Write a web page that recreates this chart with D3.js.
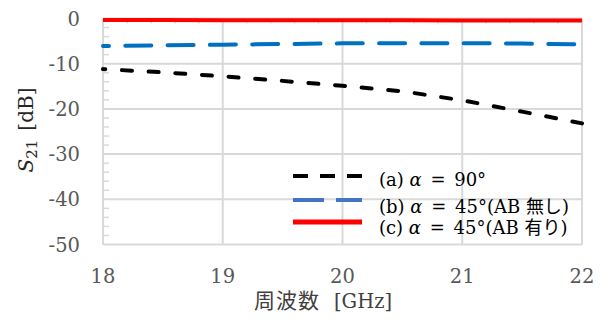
<!DOCTYPE html>
<html>
<head>
<meta charset="utf-8">
<script src="https://cdn.jsdelivr.net/npm/d3@7"></script>
<style>
  body { margin: 0; background: #fff; }
  svg { display: block; }
</style>
</head>
<body>
<svg id="chart"></svg>
<script>
// frequency points (GHz)
const freqs = [18, 18.5, 19, 19.5, 20, 20.5, 21, 21.5, 22];
// S21 values (dB)
const seriesA = [-11.2, -11.9, -12.8, -13.8, -14.9, -16.1, -18.1, -20.6, -23.2];
const seriesB = [-6.1, -5.95, -5.8, -5.65, -5.5, -5.45, -5.45, -5.55, -5.7];
const seriesC = [-0.35, -0.35, -0.37, -0.38, -0.4, -0.4, -0.42, -0.43, -0.45];
const xTicks = [18, 19, 20, 21, 22];
const yTicks = [0, -10, -20, -30, -40, -50];
const legendLabels = [
  { tag: "(a) ", ang: "90°", note: "" },
  { tag: "(b) ", ang: "45°", note: "無し" },
  { tag: "(c) ", ang: "45°", note: "有り" }
];

const width = 603, height = 320;
const svg = d3.select("#chart").attr("width", width).attr("height", height);

const x = d3.scaleLinear().domain([18, 22]).range([103, 582]);
const y = d3.scaleLinear().domain([-50, 0]).range([244.5, 18.5]);

const grid = "#d9d9d9";
const serif = "'DejaVu Serif', 'Liberation Serif', serif";
const cjk = "'Noto Sans CJK JP', sans-serif";

// horizontal gridlines
svg.append("g").selectAll("line")
  .data(yTicks)
  .join("line")
  .attr("x1", x(18)).attr("x2", x(22))
  .attr("y1", d => y(d)).attr("y2", d => y(d))
  .attr("stroke", grid).attr("stroke-width", 2);

// vertical gridlines
svg.append("g").selectAll("line")
  .data(xTicks)
  .join("line")
  .attr("x1", d => x(d)).attr("x2", d => x(d))
  .attr("y1", y(0)).attr("y2", y(-50))
  .attr("stroke", grid).attr("stroke-width", 2);

// minor ticks on the left axis (every 2 dB)
svg.append("g").selectAll("line")
  .data(d3.range(-48, 0, 2).filter(v => v % 10 !== 0))
  .join("line")
  .attr("x1", x(18)).attr("x2", x(18) + 6)
  .attr("y1", d => y(d)).attr("y2", d => y(d))
  .attr("stroke", grid).attr("stroke-width", 1.5);

// minor ticks on the x axis at 0 dB (every 0.2 GHz)
svg.append("g").selectAll("line")
  .data(d3.range(18.2, 22, 0.2).filter(v => Math.abs(v - Math.round(v)) > 0.01))
  .join("line")
  .attr("x1", d => x(d)).attr("x2", d => x(d))
  .attr("y1", y(0)).attr("y2", y(0) + 5)
  .attr("stroke", grid).attr("stroke-width", 1.5);

// y tick labels
svg.append("g").selectAll("text")
  .data(yTicks)
  .join("text")
  .attr("x", 80).attr("y", d => y(d) + 7)
  .attr("text-anchor", "end")
  .attr("font-family", serif).attr("font-size", 19.5)
  .attr("fill", "#595959")
  .text(d => d);

// x tick labels
svg.append("g").selectAll("text")
  .data(xTicks)
  .join("text")
  .attr("x", d => x(d)).attr("y", 283)
  .attr("text-anchor", "middle")
  .attr("font-family", serif).attr("font-size", 19.5)
  .attr("fill", "#595959")
  .text(d => d);

// x axis title
const xt = svg.append("text")
  .attr("x", 323).attr("y", 308)
  .attr("text-anchor", "middle")
  .attr("fill", "#404040");
xt.append("tspan").attr("font-family", cjk).attr("font-size", 21).attr("letter-spacing", 1).text("周波数");
xt.append("tspan").attr("font-family", serif).attr("font-size", 19.5).attr("dx", 14).text("[GHz]");

// y axis title
const yt = svg.append("text")
  .attr("transform", "translate(33,130) rotate(-90)")
  .attr("text-anchor", "middle")
  .attr("font-family", serif).attr("font-size", 20)
  .attr("fill", "#262626");
yt.append("tspan").attr("font-style", "italic").text("S");
yt.append("tspan").attr("font-size", 15).attr("dy", 4).text("21");
yt.append("tspan").attr("dy", -4).attr("dx", 9).text("[dB]");

// data lines
const line = d3.line().x(d => x(d[0])).y(d => y(d[1]));
const series = [
  { values: seriesA, color: "#000000", dash: "10,16.7", offset: 7.7 },
  { values: seriesB, color: "#0070c0", dash: "26,16.3", offset: 20 },
  { values: seriesC, color: "#ff0000", dash: null, offset: 0 }
];
series.forEach(s => {
  svg.append("path")
    .datum(freqs.map((f, i) => [f, s.values[i]]))
    .attr("d", line)
    .attr("fill", "none")
    .attr("stroke", s.color)
    .attr("stroke-width", 4)
    .attr("stroke-linecap", s.dash ? "round" : "butt")
    .attr("stroke-dasharray", s.dash)
    .attr("stroke-dashoffset", s.offset);
});

// legend
const legendY = [176, 200, 222];
const legendBase = [186, 213, 234];
const legendStyle = [
  { color: "#000000", dash: "15,12", w: 4 },
  { color: "#4472c4", dash: "31,12", w: 4 },
  { color: "#ff0000", dash: null, w: 5 }
];
const lg = svg.append("g");
legendLabels.forEach((l, i) => {
  lg.append("line")
    .attr("x1", 293).attr("x2", 362)
    .attr("y1", legendY[i]).attr("y2", legendY[i])
    .attr("stroke", legendStyle[i].color)
    .attr("stroke-width", legendStyle[i].w)
    .attr("stroke-dasharray", legendStyle[i].dash);
  const t = lg.append("text")
    .attr("x", 379).attr("y", legendBase[i])
    .attr("font-family", serif).attr("font-size", 18)
    .attr("fill", "#000");
  t.append("tspan").text(l.tag);
  t.append("tspan").attr("font-style", "italic").text("α");
  t.append("tspan").attr("dx", 3).text(" = ");
  t.append("tspan").attr("dx", 3).text(l.ang);
  if (l.note) {
    t.append("tspan").text("(AB ");
    t.append("tspan").attr("font-family", cjk).text(l.note);
    t.append("tspan").text(")");
  }
});
</script>
</body>
</html>
